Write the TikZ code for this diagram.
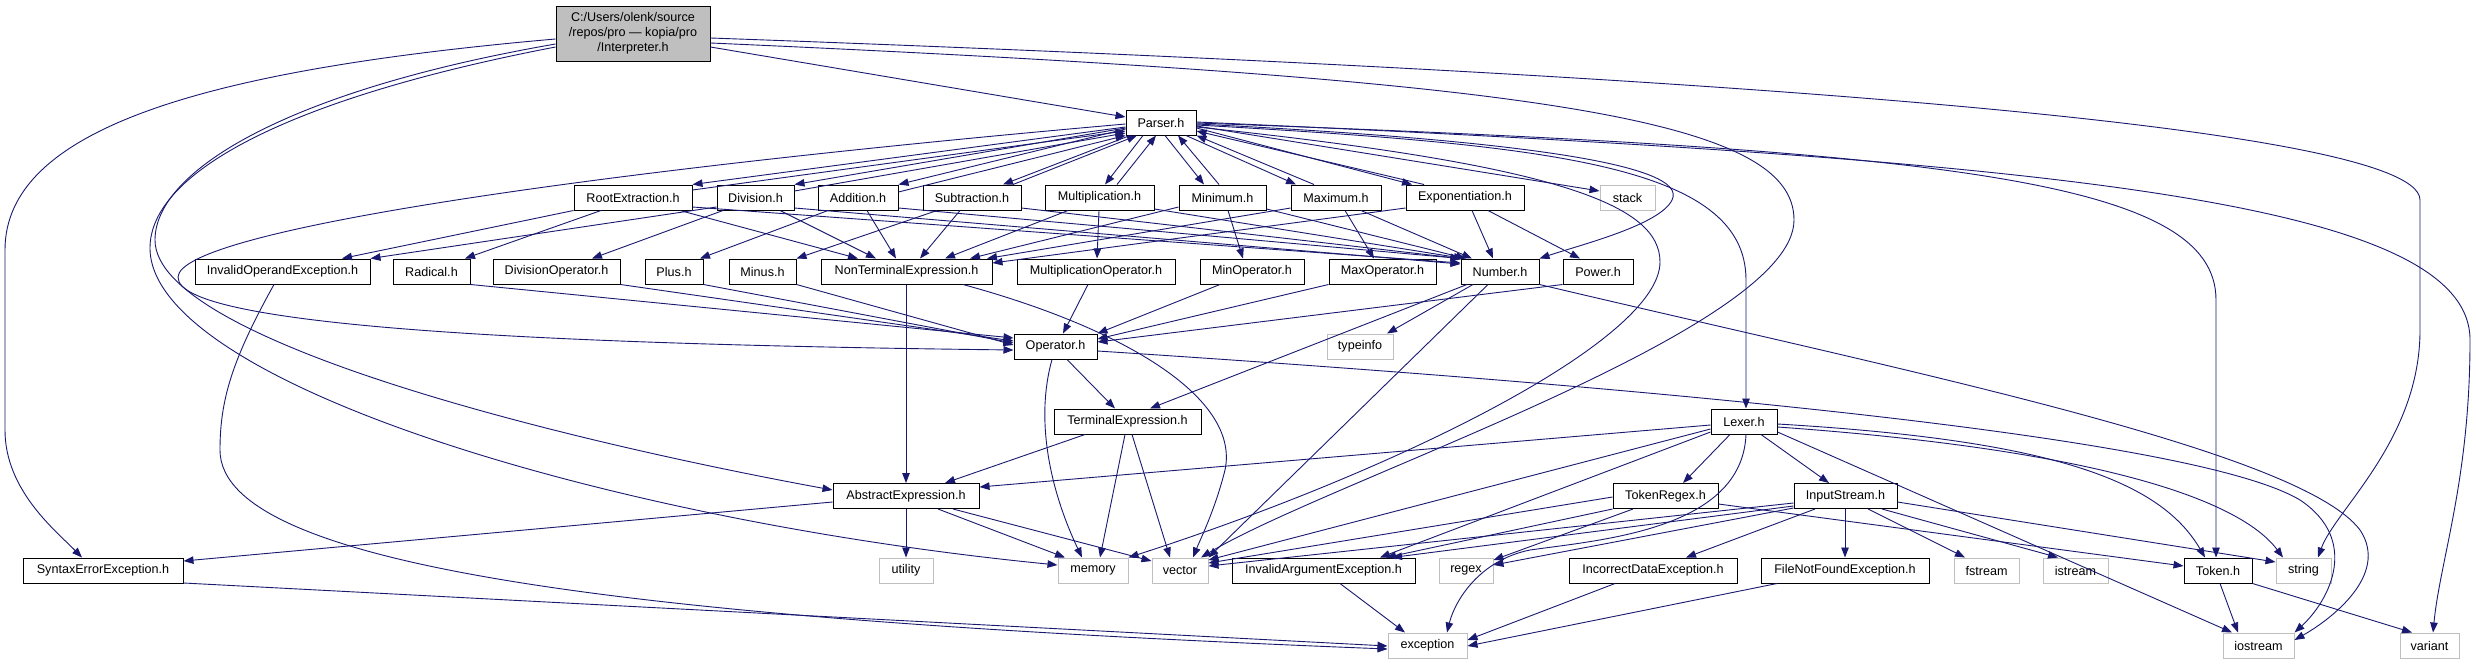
\documentclass[tikz,border=0pt]{standalone}
\usepackage{fontspec}
\setmainfont{Liberation Sans}
\usetikzlibrary{arrows.meta}
\definecolor{edgec}{HTML}{191970}
\definecolor{sysc}{HTML}{BFBFBF}
\tikzset{
  fbox/.style={draw=black, line width=1pt, fill=white, inner sep=0pt, minimum height=25pt,
    font=\fontsize{12.6}{15}\selectfont},
  sbox/.style={fbox, draw=sysc},
  rootbox/.style={fbox, fill=sysc, align=center, minimum height=55pt},
  e/.style={draw=edgec, line width=0.9pt, -{Triangle[length=10pt,width=7.5pt]}},
}
\newcommand\nd[6]{\node[#6, minimum width=#3pt] (#1) at (#2,#4) {#5};}
\begin{document}
\begin{tikzpicture}[x=1pt,y=-1pt]
\fill[white] (0,0) rectangle (2476,664);
\useasboundingbox (0,0) rectangle (2476,664);
% nodes
\nd{Interp}{633}{154}{33.5}{C:/Users/olenk/source\\/repos/pro — kopia/pro\\/Interpreter.h}{rootbox}
\nd{Parser}{1161}{70}{122.5}{Parser.h}{fbox}
\nd{RootEx}{633}{118}{197.5}{RootExtraction.h}{fbox}
\nd{Div}{755.5}{77}{197.5}{Division.h}{fbox}
\nd{Add}{858}{80}{197.5}{Addition.h}{fbox}
\nd{Sub}{972}{98}{197.5}{Subtraction.h}{fbox}
\nd{Mul}{1099.5}{109}{197.5}{Multiplication.h}{fbox}
\nd{Min}{1222.5}{87}{197.5}{Minimum.h}{fbox}
\nd{Max}{1336}{90}{197.5}{Maximum.h}{fbox}
\nd{Exp}{1465}{118}{197.5}{Exponentiation.h}{fbox}
\nd{stack}{1627.5}{55}{197.5}{stack}{sbox}
\nd{InvOp}{282.5}{175}{271.5}{InvalidOperandException.h}{fbox}
\nd{Rad}{431.5}{77}{271.5}{Radical.h}{fbox}
\nd{DivOp}{556.5}{127}{271.5}{DivisionOperator.h}{fbox}
\nd{Plus}{674}{58}{271.5}{Plus.h}{fbox}
\nd{Minus}{762.5}{67}{271.5}{Minus.h}{fbox}
\nd{NonTerm}{906.5}{171}{271.5}{NonTerminalExpression.h}{fbox}
\nd{MulOp}{1096}{158}{271.5}{MultiplicationOperator.h}{fbox}
\nd{MinOp}{1252}{104}{271.5}{MinOperator.h}{fbox}
\nd{MaxOp}{1382.5}{107}{271.5}{MaxOperator.h}{fbox}
\nd{Number}{1500}{78}{271.5}{Number.h}{fbox}
\nd{Power}{1598}{70}{271.5}{Power.h}{fbox}
\nd{Operator}{1055.5}{83}{346.5}{Operator.h}{fbox}
\nd{typeinfo}{1360}{66}{346.5}{typeinfo}{sbox}
\nd{Terminal}{1127.5}{147}{421.5}{TerminalExpression.h}{fbox}
\nd{Lexer}{1744}{66}{421.5}{Lexer.h}{fbox}
\nd{Abstract}{906}{146}{496}{AbstractExpression.h}{fbox}
\nd{TokRegex}{1665.5}{105}{496}{TokenRegex.h}{fbox}
\nd{InStream}{1845.5}{103}{496}{InputStream.h}{fbox}
\nd{Syntax}{103}{160}{570.5}{SyntaxErrorException.h}{fbox}
\nd{utility}{906}{54}{570.5}{utility}{sbox}
\nd{memory}{1093}{70}{570.5}{memory}{sbox}
\nd{vector}{1180}{56}{570.5}{vector}{sbox}
\nd{InvArg}{1323.5}{183}{570.5}{InvalidArgumentException.h}{fbox}
\nd{regex}{1466}{54}{570.5}{regex}{sbox}
\nd{IncData}{1653}{168}{570.5}{IncorrectDataException.h}{fbox}
\nd{FileNF}{1845}{168}{570.5}{FileNotFoundException.h}{fbox}
\nd{fstream}{1986.5}{65}{570.5}{fstream}{sbox}
\nd{istream}{2075.5}{65}{570.5}{istream}{sbox}
\nd{Token}{2218}{68}{570.5}{Token.h}{fbox}
\nd{string}{2303.5}{55}{570.5}{string}{sbox}
\nd{exception}{1427.5}{79}{645.5}{exception}{sbox}
\nd{iostream}{2258.5}{71}{645.5}{iostream}{sbox}
\nd{variant}{2429.5}{59}{645.5}{variant}{sbox}
% Interpreter edges
\draw[e] (Interp.east |- 0,47) -- (Parser.west |- 0,117);
\draw[e] (Interp.east |- 0,38) .. controls (1600,70) and (2420,120) .. (2420,200) -- (2420,330) .. controls (2420,440) and (2335,510) .. (string.north -| 2318,0);
\draw[e] (Interp.east |- 0,43) .. controls (1550,80) and (1794,120) .. (1794,220) .. controls (1794,330) and (1330,480) .. (vector.north -| 1201,0);
\draw[e] (Interp.west |- 0,39) .. controls (200,70) and (5,130) .. (5,250) -- (5,430) .. controls (5,490) and (55,530) .. (Syntax.north -| 82,0);
\draw[e] (Interp.west |- 0,44) .. controls (290,90) and (155,170) .. (155,240) .. controls (155,340) and (560,440) .. (Abstract.west |- 0,490);
\draw[e] (Interp.west |- 0,47) .. controls (280,100) and (150,175) .. (150,248) .. controls (150,380) and (600,520) .. (memory.west |- 0,565);
% Parser edges
\draw[e] (Parser.west |- 0,127) -- (RootEx.north east);
\draw[e] (RootEx.east |- 0,190) -- (Parser.west |- 0,131);
\draw[e] (Parser.west |- 0,128) -- (Div.north east);
\draw[e] (Div.east |- 0,191) -- (Parser.west |- 0,133);
\draw[e] (Parser.west |- 0,129) -- (Add.north east);
\draw[e] (Add.east |- 0,192) -- (Parser.south west);
\draw[e] (Parser.south -| 1130,0) -- (Sub.north -| 1003,0);
\draw[e] (Sub.north -| 1013,0) -- (Parser.south -| 1137,0);
\draw[e] (Parser.south -| 1143,0) -- (Mul.north -| 1105,0);
\draw[e] (Mul.north -| 1117,0) -- (Parser.south -| 1156,0);
\draw[e] (Parser.south -| 1165,0) -- (Min.north -| 1204,0);
\draw[e] (Min.north -| 1219,0) -- (Parser.south -| 1178,0);
\draw[e] (Parser.south -| 1186,0) -- (Max.north -| 1296,0);
\draw[e] (Max.north -| 1314,0) -- (Parser.south east);
\draw[e] (Parser.east |- 0,128) -- (Exp.north -| 1412,0);
\draw[e] (Exp.north -| 1424,0) -- (Parser.east |- 0,131);
\draw[e] (Parser.east |- 0,126) -- (stack.west |- 0,191);
\draw[e] (Parser.east |- 0,124) .. controls (1520,140) and (1690,165) .. (1672,200) .. controls (1660,225) and (1580,245) .. (Number.north east);
\draw[e] (Parser.east |- 0,125) .. controls (1550,145) and (1746,165) .. (1746,280) -- (Lexer.north -| 1746,0);
\draw[e] (Parser.east |- 0,123) .. controls (1950,150) and (2216,180) .. (2216,300) -- (Token.north -| 2216,0);
\draw[e] (Parser.east |- 0,122) .. controls (2050,160) and (2470,200) .. (2470,340) .. controls (2470,480) and (2440,560) .. (variant.north -| 2433,0);
\draw[e] (Parser.west |- 0,124) .. controls (600,170) and (180,230) .. (178,277) .. controls (176,330) and (600,345) .. (Operator.west |- 0,350);
\draw[e] (Parser.east |- 0,127) .. controls (1560,165) and (1660,205) .. (1660,262) .. controls (1660,340) and (1400,470) .. (memory.north east);
% rank 2 -> NonTerminal
\draw[e] (RootEx.south -| 680,0) -- (NonTerm.north -| 858,0);
\draw[e] (Div.south -| 780,0) -- (NonTerm.north -| 876,0);
\draw[e] (Add.south -| 867,0) -- (NonTerm.north -| 896,0);
\draw[e] (Sub.south -| 960,0) -- (NonTerm.north -| 920,0);
\draw[e] (Mul.south -| 1068,0) -- (NonTerm.north -| 945,0);
\draw[e] (Min.west |- 0,207) -- (NonTerm.north -| 970,0);
\draw[e] (Max.west |- 0,208) -- (NonTerm.north -| 987,0);
\draw[e] (Exp.west |- 0,208) -- (NonTerm.east |- 0,263);
% rank 2 -> Number
\draw[e] (RootEx.east |- 0,207) -- (Number.west |- 0,263);
\draw[e] (Div.east |- 0,208) -- (Number.west |- 0,264);
\draw[e] (Add.east |- 0,208) -- (Number.north west);
\draw[e] (Sub.east |- 0,208) -- (Number.north west);
\draw[e] (Mul.east |- 0,209) -- (Number.north -| 1464,0);
\draw[e] (Min.east |- 0,209) -- (Number.north -| 1466,0);
\draw[e] (Max.south -| 1361,0) -- (Number.north -| 1472,0);
\draw[e] (Exp.south -| 1472,0) -- (Number.north -| 1493,0);
% rank 2 -> rank 3
\draw[e] (RootEx.south west) -- (InvOp.north -| 342,0);
\draw[e] (RootEx.south -| 601,0) -- (Rad.north -| 465,0);
\draw[e] (Div.west |- 0,207) -- (InvOp.north east);
\draw[e] (Div.south -| 723,0) -- (DivOp.north -| 592,0);
\draw[e] (Add.south -| 828,0) -- (Plus.north -| 700,0);
\draw[e] (Sub.south -| 937,0) -- (Minus.north east);
\draw[e] (Mul.south -| 1099,0) -- (MulOp.north -| 1097,0);
\draw[e] (Min.south -| 1228,0) -- (MinOp.north -| 1243,0);
\draw[e] (Max.south -| 1345,0) -- (MaxOp.north -| 1374,0);
\draw[e] (Exp.south -| 1488,0) -- (Power.north -| 1580,0);
% rank 3 -> Operator
\draw[e] (Rad.south east) -- (Operator.west |- 0,338);
\draw[e] (DivOp.south east) -- (Operator.west |- 0,341);
\draw[e] (Plus.south east) -- (Operator.west |- 0,343);
\draw[e] (Minus.south east) -- (Operator.west |- 0,345);
\draw[e] (MulOp.south -| 1088,0) -- (Operator.north -| 1063,0);
\draw[e] (MinOp.south -| 1220,0) -- (Operator.north east);
\draw[e] (MaxOp.south west) -- (Operator.east |- 0,339);
\draw[e] (Power.south west) -- (Operator.east |- 0,342);
% Operator
\draw[e] (Operator.south -| 1067,0) -- (Terminal.north -| 1115,0);
\draw[e] (Operator.south -| 1052,0) .. controls (1035,420) and (1050,490) .. (memory.north -| 1082,0);
\draw[e] (Operator.east |- 0,351) .. controls (1700,390) and (2200,440) .. (2300,500) .. controls (2360,540) and (2330,600) .. (iostream.north east);
% NonTerminal
\draw[e] (NonTerm.south -| 906,0) -- (Abstract.north -| 906,0);
\draw[e] (NonTerm.south -| 963,0) .. controls (1130,330) and (1240,400) .. (1225,470) .. controls (1215,510) and (1200,540) .. (vector.north -| 1193,0);
% Number
\draw[e] (Number.south -| 1467,0) -- (Terminal.north -| 1150,0);
\draw[e] (Number.south -| 1473,0) -- (typeinfo.north -| 1387,0);
\draw[e] (Number.south -| 1488,0) -- (vector.north east);
\draw[e] (Number.south east) .. controls (1900,370) and (2300,450) .. (2360,530) .. controls (2390,575) and (2330,620) .. (iostream.east |- 0,640);
% Terminal
\draw[e] (Terminal.south -| 1085,0) -- (Abstract.north -| 945,0);
\draw[e] (Terminal.south -| 1125,0) -- (memory.north -| 1100,0);
\draw[e] (Terminal.south -| 1132,0) -- (vector.north -| 1170,0);
% Abstract
\draw[e] (Abstract.west |- 0,502) -- (Syntax.east |- 0,561);
\draw[e] (Abstract.south -| 906,0) -- (utility.north -| 906,0);
\draw[e] (Abstract.south -| 938,0) -- (memory.north -| 1065,0);
\draw[e] (Abstract.south -| 953,0) -- (vector.west |- 0,561);
% Lexer
\draw[e] (Lexer.west |- 0,425) -- (Abstract.east |- 0,487);
\draw[e] (Lexer.south -| 1730,0) -- (TokRegex.north -| 1683,0);
\draw[e] (Lexer.south -| 1761,0) -- (InStream.north -| 1829,0);
\draw[e] (Lexer.east |- 0,424) .. controls (2050,440) and (2160,480) .. (Token.north -| 2205,0);
\draw[e] (Lexer.east |- 0,427) .. controls (2100,450) and (2240,500) .. (string.north -| 2283,0);
\draw[e] (Lexer.east |- 0,432) -- (iostream.north -| 2232,0);
\draw[e] (Lexer.south -| 1746,0) .. controls (1742,530) and (1600,540) .. (1530,550) .. controls (1480,560) and (1455,600) .. (exception.north -| 1447,0);
\draw[e] (Lexer.west |- 0,429) -- (vector.east |- 0,560);
\draw[e] (Lexer.west |- 0,432) -- (InvArg.north -| 1380,0);
% TokenRegex
\draw[e] (TokRegex.west |- 0,497) -- (vector.east |- 0,563);
\draw[e] (TokRegex.south west) -- (InvArg.north -| 1386,0);
\draw[e] (TokRegex.south -| 1633,0) -- (regex.east |- 0,560);
\draw[e] (TokRegex.east |- 0,504) -- (Token.west |- 0,566);
% InputStream
\draw[e] (InStream.west |- 0,503) -- (vector.east |- 0,566);
\draw[e] (InStream.west |- 0,506) -- (InvArg.north -| 1392,0);
\draw[e] (InStream.west |- 0,508) -- (regex.east |- 0,565);
\draw[e] (InStream.south -| 1815,0) -- (IncData.north -| 1686,0);
\draw[e] (InStream.south -| 1845,0) -- (FileNF.north -| 1845,0);
\draw[e] (InStream.south -| 1868,0) -- (fstream.north -| 1965,0);
\draw[e] (InStream.south -| 1882,0) -- (istream.north -| 2058,0);
\draw[e] (InStream.east |- 0,502) -- (string.west |- 0,562);
% exceptions and bottom
\draw[e] (InvArg.south -| 1340,0) -- (exception.north -| 1405,0);
\draw[e] (IncData.south -| 1615,0) -- (exception.east |- 0,640);
\draw[e] (FileNF.south -| 1777,0) -- (exception.east |- 0,646);
\draw[e] (Syntax.east |- 0,583) -- (exception.west |- 0,646);
\draw[e] (InvOp.south -| 274,0) .. controls (232,360) and (220,400) .. (220,450) .. controls (220,570) and (650,620) .. (exception.west |- 0,649);
\draw[e] (Token.south -| 2220,0) -- (iostream.north -| 2238,0);
\draw[e] (Token.south east) -- (variant.north -| 2412,0);
\end{tikzpicture}
\end{document}
